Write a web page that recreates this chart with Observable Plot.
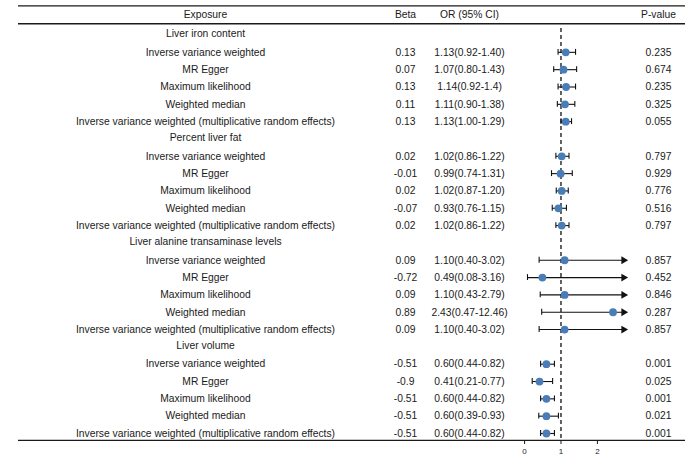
<!DOCTYPE html>
<html>
<head>
<meta charset="utf-8">
<script src="https://cdn.jsdelivr.net/npm/d3@7"></script>
<script src="https://cdn.jsdelivr.net/npm/@observablehq/plot@0.6"></script>
<style>
  html, body { margin: 0; padding: 0; background: #fff; }
  #chart svg { display: block; }
</style>
</head>
<body>
<div id="chart"></div>
<script>
// ---- data ----
const groups = ["Liver iron content", "Percent liver fat", "Liver alanine transaminase levels", "Liver volume"];
const methods = ["Inverse variance weighted", "MR Egger", "Maximum likelihood", "Weighted median",
  "Inverse variance weighted (multiplicative random effects)"];
const betaLabels = ["0.13","0.07","0.13","0.11","0.13",
  "0.02","-0.01","0.02","-0.07","0.02",
  "0.09","-0.72","0.09","0.89","0.09",
  "-0.51","-0.9","-0.51","-0.51","-0.51"];
const orValues = [1.13,1.07,1.14,1.11,1.13, 1.02,0.99,1.02,0.93,1.02, 1.10,0.49,1.10,2.43,1.10, 0.60,0.41,0.60,0.60,0.60];
const lowerCI = [0.92,0.80,0.92,0.90,1.00, 0.86,0.74,0.87,0.76,0.86, 0.40,0.08,0.43,0.47,0.40, 0.44,0.21,0.44,0.39,0.44];
const upperCI = [1.40,1.43,1.4,1.38,1.29, 1.22,1.31,1.20,1.15,1.22, 3.02,3.16,2.79,12.46,3.02, 0.82,0.77,0.82,0.93,0.82];
const orLabels = ["1.13(0.92-1.40)","1.07(0.80-1.43)","1.14(0.92-1.4)","1.11(0.90-1.38)","1.13(1.00-1.29)",
  "1.02(0.86-1.22)","0.99(0.74-1.31)","1.02(0.87-1.20)","0.93(0.76-1.15)","1.02(0.86-1.22)",
  "1.10(0.40-3.02)","0.49(0.08-3.16)","1.10(0.43-2.79)","2.43(0.47-12.46)","1.10(0.40-3.02)",
  "0.60(0.44-0.82)","0.41(0.21-0.77)","0.60(0.44-0.82)","0.60(0.39-0.93)","0.60(0.44-0.82)"];
const pValues = ["0.235","0.674","0.235","0.325","0.055",
  "0.797","0.929","0.776","0.516","0.797",
  "0.857","0.452","0.846","0.287","0.857",
  "0.001","0.025","0.001","0.021","0.001"];
const headers = ["Exposure", "Beta", "OR (95% CI)", "P-value"];
const xTicks = [0, 1, 2];
const refLine = 1;
const xClip = 2.72;

// ---- build table ----
const groupRows = groups.map((g, i) => ({label: g, row: 1 + i * 6}));
const rows = [];
groups.forEach((g, gi) => {
  methods.forEach((m, mi) => {
    const k = gi * methods.length + mi;
    const up = upperCI[k];
    rows.push({
      row: 2 + gi * 6 + mi,
      method: m, beta: betaLabels[k], or: orValues[k], lo: lowerCI[k], hi: up,
      hiDraw: Math.min(up, xClip), clipped: up > xClip,
      orLabel: orLabels[k], p: pValues[k]
    });
  });
});
const capped = rows.filter(d => !d.clipped);
const arrowed = rows.filter(d => d.clipped);

// ---- layout ----
const W = 685, H = 456;
const colExposure = 187, colBeta = 387, colOR = 451, colP = 640; // dx from left frame edge (18px)
const capHalf = 0.17;
const textColor = "#1a1a1a";
const dotColor = "#4a7db8";

const chart = Plot.plot({
  width: W, height: H,
  marginLeft: 18, marginRight: 0, marginTop: 17, marginBottom: 16,
  style: {fontFamily: "'Liberation Sans', Arial, sans-serif", fontSize: "10.3px", color: textColor, background: "#fff"},
  x: {domain: [-13.9, 4.42]},
  y: {type: "linear", domain: [0, 24], range: [17.2, 433], axis: null},
  marks: [
    // horizontal table lines
    Plot.ruleY([-0.68, 0.35, 24.4], {stroke: textColor, strokeWidth: 1.3}),
    // reference line at OR = 1
    Plot.ruleX([refLine], {y1: 0.62, y2: 24.4, stroke: "#222", strokeWidth: 1.4, strokeDasharray: "4,3"}),
    // CI lines
    Plot.link(rows, {x1: "lo", x2: "hiDraw", y1: "row", y2: "row", stroke: "#111", strokeWidth: 1.1}),
    // caps
    Plot.ruleX(rows, {x: "lo", y1: d => d.row - capHalf, y2: d => d.row + capHalf, stroke: "#111", strokeWidth: 1.1}),
    Plot.ruleX(capped, {x: "hi", y1: d => d.row - capHalf, y2: d => d.row + capHalf, stroke: "#111", strokeWidth: 1.1}),
    // arrow heads
    Plot.dot(arrowed, {x: "hiDraw", y: "row", symbol: "triangle", r: 2.9, rotate: 90, fill: "#111", stroke: "none"}),
    // points
    Plot.dot(rows, {x: "or", y: "row", r: 3.9, fill: dotColor, stroke: "none"}),
    // headers
    Plot.text([headers[0]], {frameAnchor: "left", y: () => 0, dx: colExposure, dy: -3, textAnchor: "middle", fill: textColor}),
    Plot.text([headers[1]], {frameAnchor: "left", y: () => 0, dx: colBeta, dy: -3, textAnchor: "middle", fill: textColor}),
    Plot.text([headers[2]], {frameAnchor: "left", y: () => 0, dx: colOR, dy: -3, textAnchor: "middle", fill: textColor}),
    Plot.text([headers[3]], {frameAnchor: "left", y: () => 0, dx: colP, dy: -3, textAnchor: "middle", fill: textColor}),
    // group labels
    Plot.text(groupRows, {frameAnchor: "left", y: "row", text: "label", dx: colExposure, dy: -1, textAnchor: "middle", fill: textColor}),
    // row texts
    Plot.text(rows, {frameAnchor: "left", y: "row", text: "method", dx: colExposure, textAnchor: "middle", fill: textColor}),
    Plot.text(rows, {frameAnchor: "left", y: "row", text: "beta", dx: colBeta, textAnchor: "middle", fill: textColor}),
    Plot.text(rows, {frameAnchor: "left", y: "row", text: "orLabel", dx: colOR, textAnchor: "middle", fill: textColor}),
    Plot.text(rows, {frameAnchor: "left", y: "row", text: "p", dx: colP, textAnchor: "middle", fill: textColor}),
    // x axis
    Plot.axisX({ticks: xTicks, tickSize: 4, tickPadding: 4, fontSize: 8, label: null, stroke: textColor, fill: textColor})
  ]
});
document.getElementById("chart").appendChild(chart);
</script>
</body>
</html>
